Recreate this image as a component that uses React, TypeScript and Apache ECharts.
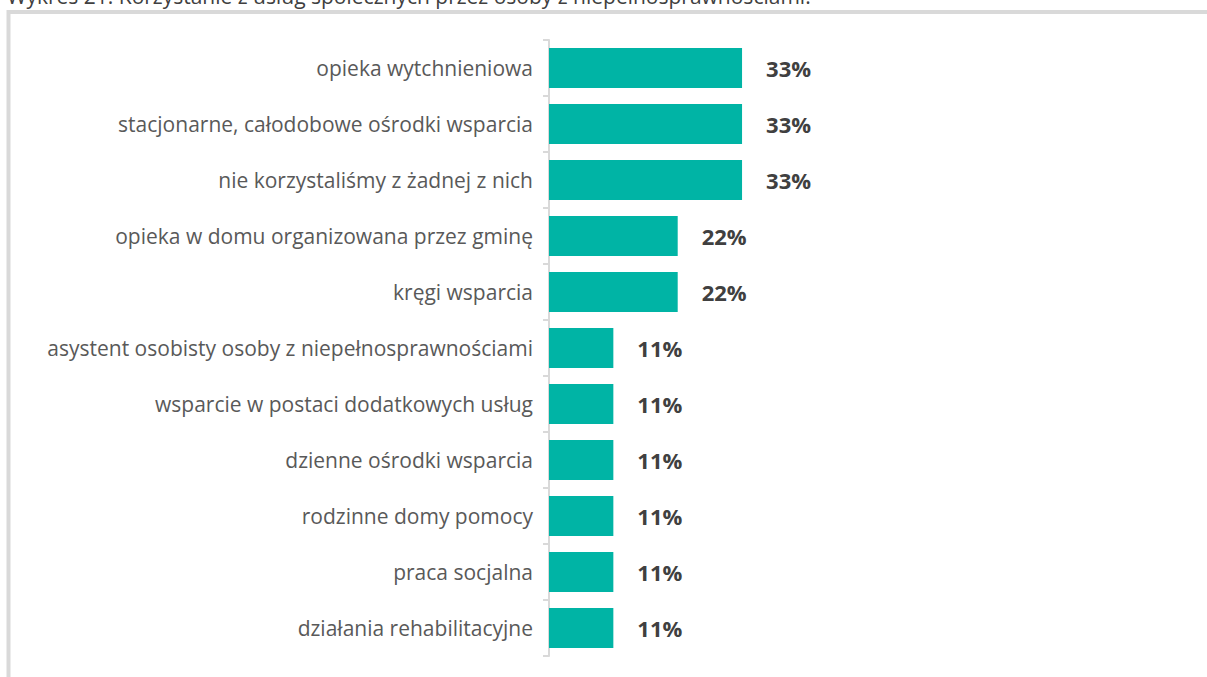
import React, { useEffect, useRef } from "react";
import * as echarts from "echarts";

const categories = [
  "opieka wytchnieniowa",
  "stacjonarne, całodobowe ośrodki wsparcia",
  "nie korzystaliśmy z żadnej z nich",
  "opieka w domu organizowana przez gminę",
  "kręgi wsparcia",
  "asystent osobisty osoby z niepełnosprawnościami",
  "wsparcie w postaci dodatkowych usług",
  "dzienne ośrodki wsparcia",
  "rodzinne domy pomocy",
  "praca socjalna",
  "działania rehabilitacyjne",
];
const values = [33, 33, 33, 22, 22, 11, 11, 11, 11, 11, 11];
const titleText =
  "Wykres 21. Korzystanie z usług społecznych przez osoby z niepełnosprawnościami.";

const FONT = "'Open Sans', Lato, sans-serif";

export default function App() {
  const ref = useRef<HTMLDivElement>(null);
  useEffect(() => {
    if (!ref.current) return;
    const chart = echarts.init(ref.current, undefined, { renderer: "svg" });
    chart.setOption({
      animation: false,
      backgroundColor: "#ffffff",
      graphic: [
        {
          type: "rect",
          shape: { x: 8.5, y: 12, width: 1400, height: 900 },
          style: { fill: "none", stroke: "#d9d9d9", lineWidth: 4 },
          silent: true,
        },
        {
          type: "text",
          left: 7,
          top: -15,
          style: {
            text: titleText,
            fontFamily: FONT,
            fontSize: 21,
            fill: "#404040",
          },
        },
      ],
      grid: { left: 549, top: 40, width: 585, height: 616, containLabel: false },
      xAxis: {
        type: "value",
        min: 0,
        max: 100,
        show: false,
      },
      yAxis: {
        type: "category",
        data: categories,
        inverse: true,
        offset: 3,
        axisLine: { show: true, lineStyle: { color: "#d9d9d9", width: 2 } },
        axisTick: { show: true, length: 6, lineStyle: { color: "#d9d9d9", width: 2 } },
        axisLabel: {
          margin: 13,
          color: "#595959",
          fontFamily: FONT,
          fontSize: 21,
        },
        splitLine: { show: false },
      },
      series: [
        {
          type: "bar",
          data: values,
          barWidth: 40,
          itemStyle: { color: "#00b4a5" },
          label: {
            show: true,
            position: "right",
            distance: 24,
            formatter: "{c}%",
            color: "#404040",
            fontFamily: FONT,
            fontWeight: "bold",
            fontSize: 22,
          },
        },
      ],
    });
    return () => chart.dispose();
  }, []);
  return <div ref={ref} style={{ width: 1207, height: 677, position: "absolute", left: 0, top: 0 }} />;
}
